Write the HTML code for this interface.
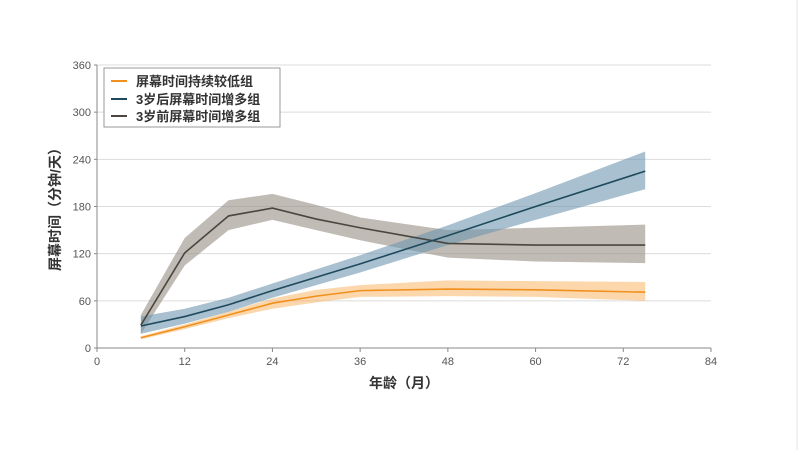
<!DOCTYPE html>
<html><head><meta charset="utf-8"><style>
body{margin:0;background:#fff;}
svg text{font-family:"Liberation Sans","Noto Sans CJK SC",sans-serif;}
</style></head><body>
<svg width="800" height="450" xmlns="http://www.w3.org/2000/svg">
<rect x="0" y="0" width="800" height="450" fill="#fff"/>
<line x1="797" y1="0" x2="797" y2="450" stroke="#e4e4e4"/>
<g id="grid"></g><g id="bands"></g><g id="lines"></g><g id="axes"></g>
<text x="404" y="388" text-anchor="middle" font-size="14" font-weight="bold" fill="#333">年龄（月）</text>
<text transform="translate(60,206) rotate(-90)" text-anchor="middle" font-size="14" font-weight="bold" fill="#333">屏幕时间（分钟/天）</text>
<g>
<rect x="104" y="68" width="176" height="59" fill="#fff" stroke="#999"/>
<g><line x1="111" y1="81" x2="127" y2="81" stroke="#f0901e" stroke-width="2"/><text x="136" y="86" font-size="13" font-weight="bold" fill="#333">屏幕时间持续较低组</text></g>
<g><line x1="111" y1="99" x2="127" y2="99" stroke="#1e4a5c" stroke-width="2"/><text x="136" y="104" font-size="13" font-weight="bold" fill="#333">3岁后屏幕时间增多组</text></g>
<g><line x1="111" y1="116" x2="127" y2="116" stroke="#4a4640" stroke-width="2"/><text x="136" y="121" font-size="13" font-weight="bold" fill="#333">3岁前屏幕时间增多组</text></g>
</g>
</svg>
<script>
const ages=[6,12,18,24,30,36,48,60,75];
const lowMean=[13,27,42,57,66,73,75,74,71];
const lowLo=[11,24,38,50,58,65,66,65,60];
const lowHi=[15,30,46,63,74,80,86,85,84];
const afterMean=[28,40,55,73,90,107,143,180,225];
const afterLo=[18,31,46,64,80,96,131,163,202];
const afterHi=[40,50,64,82,100,118,156,197,250];
const beforeMean=[29,121,168,178,164,153,133,131,131];
const beforeLo=[18,105,150,163,150,137,115,110,108];
const beforeHi=[42,140,188,196,182,166,150,153,157];
const xTicks=[0,12,24,36,48,60,72,84];
const yTicks=[0,60,120,180,240,300,360];
const X=v=>97+v*(614/84), Y=v=>348-v*(283/360);
const NS="http://www.w3.org/2000/svg";
function mk(t,a,p){const e=document.createElementNS(NS,t);for(const k in a)e.setAttribute(k,a[k]);p.appendChild(e);return e;}
const grid=document.getElementById('grid'),axes=document.getElementById('axes'),bands=document.getElementById('bands'),lines=document.getElementById('lines');
yTicks.forEach(v=>{
 if(v>0){const g=mk('line',{x1:97,x2:711,y1:Y(v),y2:Y(v),stroke:'#dcdcdc'},grid);
 
 }
 const t=mk('text',{x:91,y:Y(v)+4,'text-anchor':'end','font-size':11,fill:'#555'},axes);t.textContent=v;
 
 
 mk('line',{x1:94,x2:97,y1:Y(v),y2:Y(v),stroke:'#888'},axes);
});
xTicks.forEach(v=>{
 const t=mk('text',{x:X(v),y:365,'text-anchor':'middle','font-size':11,fill:'#555'},axes);t.textContent=v;
 
 
 mk('line',{x1:X(v),x2:X(v),y1:348,y2:352,stroke:'#888'},axes);
});
const xa=mk('line',{x1:97,x2:711,y1:348,y2:348,stroke:'#888'},axes);


const ya=mk('line',{x1:97,x2:97,y1:65,y2:348,stroke:'#888'},axes);


function band(lo,hi,fill,name){
 let d='M'+ages.map((a,i)=>X(a)+','+Y(hi[i])).join('L');
 d+='L'+ages.map((a,i)=>X(a)+','+Y(lo[i])).reverse().join('L')+'Z';
 const p=mk('path',{d:d,fill:fill},bands);
 
 
}
function line(m,c,name){
 const p=mk('polyline',{points:ages.map((a,i)=>X(a)+','+Y(m[i])).join(' '),fill:'none',stroke:c,'stroke-width':1.6},lines);
 
 
}
band(beforeLo,beforeHi,'rgba(150,142,130,0.6)','before3-ci-band');
band(afterLo,afterHi,'rgba(110,150,175,0.6)','after3-ci-band');
band(lowLo,lowHi,'rgba(250,175,90,0.5)','low-ci-band');
line(beforeMean,'#4a4640','before3-line');
line(afterMean,'#1e4a5c','after3-line');
line(lowMean,'#f0901e','low-line');
</script>
</body></html>
